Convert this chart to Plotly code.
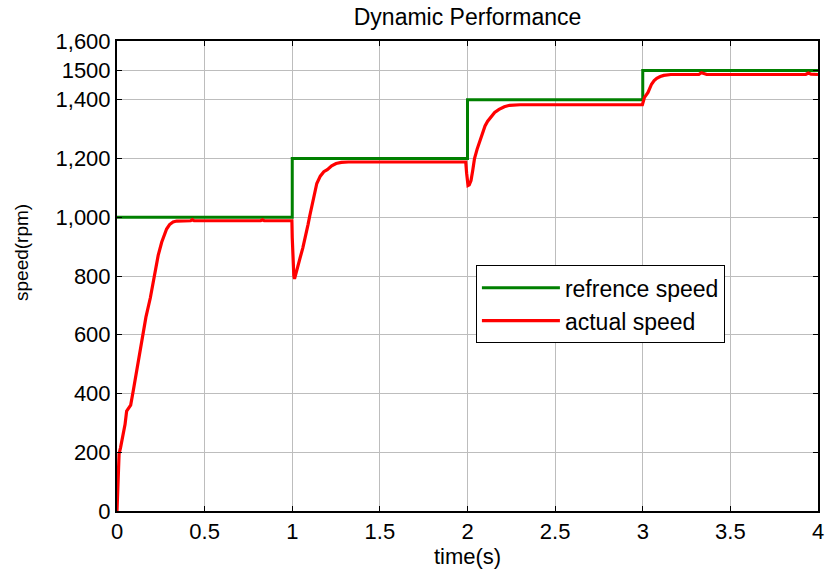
import plotly.graph_objects as go

# Reference speed command (step profile)
t_ref = [0, 1, 1, 2, 2, 3, 3, 4]
speed_ref = [1000, 1000, 1200, 1200, 1400, 1400, 1500, 1500]

# Measured rotor speed
t_act = [0, 0.003, 0.006, 0.012, 0.02, 0.027, 0.035, 0.046, 0.055, 0.065,
         0.078, 0.093, 0.11, 0.125, 0.14, 0.165, 0.19, 0.217, 0.235, 0.255,
         0.27, 0.283, 0.3, 0.32, 0.34, 0.37, 0.42, 0.43, 0.44, 0.82, 0.83,
         0.84, 0.998, 1.0, 1.002, 1.006, 1.009, 1.013, 1.018, 1.03, 1.044,
         1.06, 1.073, 1.09, 1.1, 1.12, 1.14, 1.16, 1.18, 1.2, 1.225, 1.25,
         1.28, 1.32, 1.99, 1.995, 1.999, 2.003, 2.01, 2.02, 2.03, 2.04,
         2.055, 2.07, 2.085, 2.1, 2.115, 2.13, 2.155, 2.18, 2.21, 2.24, 2.3,
         2.998, 3.01, 3.03, 3.05, 3.065, 3.08, 3.1, 3.12, 3.16, 3.32, 3.335,
         3.35, 3.365, 3.93, 3.945, 3.96, 4.0]
speed_act = [0, 70, 150, 195, 215, 235, 255, 295, 340, 350,
             360, 410, 470, 530, 585, 660, 725, 815, 870, 915,
             940, 960, 975, 984, 987, 988, 988, 992, 988, 988, 991,
             988, 988, 930, 880, 870, 800, 790, 800, 830, 860,
             895, 926, 975, 1005, 1065, 1115, 1140, 1155, 1162, 1175, 1183,
             1187, 1188, 1188, 1150, 1135, 1108, 1110, 1125, 1160, 1200,
             1232, 1260, 1290, 1311, 1327, 1340, 1357, 1367, 1376, 1381, 1383,
             1383, 1408, 1425, 1453, 1465, 1473, 1479, 1483, 1486, 1486, 1492,
             1490, 1486, 1486, 1491, 1487, 1486]

x_ticks = [0, 0.5, 1, 1.5, 2, 2.5, 3, 3.5, 4]
x_ticktext = ["0", "0.5", "1", "1.5", "2", "2.5", "3", "3.5", "4"]
y_ticks = [0, 200, 400, 600, 800, 1000, 1200, 1400, 1500, 1600]
y_ticktext = ["0", "200", "400", "600", "800", "1,000", "1,200", "1,400",
              "1500", "1,600"]

FONT = "Liberation Sans, Arial, sans-serif"

fig = go.Figure()
fig.add_trace(go.Scatter(x=t_ref, y=speed_ref, mode="lines",
                         name="refrence speed",
                         line=dict(color="#008000", width=3)))
fig.add_trace(go.Scatter(x=t_act, y=speed_act, mode="lines",
                         name="actual speed",
                         line=dict(color="#ff0000", width=3.2)))

axis_common = dict(
    showline=True, linecolor="black", linewidth=2, mirror="ticks",
    ticks="inside", ticklen=5, tickcolor="black", tickwidth=1,
    showgrid=True, gridcolor="#bdbdbd", gridwidth=1, zeroline=False,
    automargin=False,
    tickfont=dict(family=FONT, size=22, color="black"),
)

fig.update_layout(
    width=825, height=577,
    margin=dict(l=117, r=7, t=41, b=66),
    paper_bgcolor="white", plot_bgcolor="white",
    title=dict(text="Dynamic Performance", x=0.5, xref="paper",
               y=1 - 17 / 577, yref="container", yanchor="middle",
               font=dict(family=FONT, size=23, color="black")),
    xaxis=dict(range=[0, 4], tickvals=x_ticks, ticktext=x_ticktext,
               title=dict(text="time(s)", standoff=2,
                          font=dict(family=FONT, size=22, color="black")),
               **axis_common),
    yaxis=dict(range=[0, 1600], tickvals=y_ticks, ticktext=y_ticktext,
               **axis_common),
    legend=dict(x=0.512, y=0.523, xanchor="left", yanchor="top",
                bgcolor="white", bordercolor="black", borderwidth=1,
                itemwidth=78, tracegroupgap=0,
                font=dict(family=FONT, size=23, color="black")),
    showlegend=True,
    annotations=[dict(text="speed(rpm)", textangle=-90,
                      xref="paper", yref="paper",
                      x=-0.1355, y=0.549, xanchor="center", yanchor="middle",
                      showarrow=False,
                      font=dict(family=FONT, size=19, color="black"))],
)

fig.write_html("out.html")
